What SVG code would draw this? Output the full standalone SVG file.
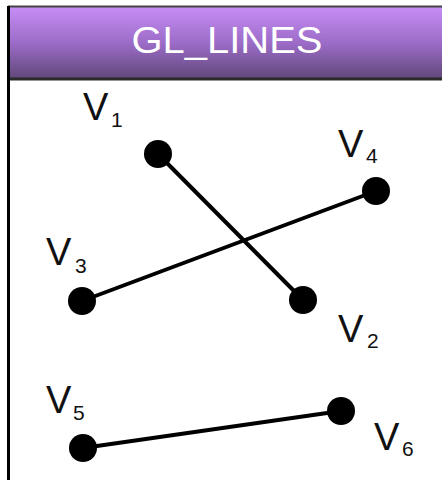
<svg xmlns="http://www.w3.org/2000/svg" width="442" height="480" viewBox="0 0 442 480">
<defs>
<linearGradient id="hdr" x1="0" y1="0" x2="0" y2="1">
<stop offset="0" stop-color="#c88ef6"/>
<stop offset="0.5" stop-color="#9c6cc8"/>
<stop offset="1" stop-color="#5e4676"/>
</linearGradient>
</defs>
<style>
.v{font-family:"Liberation Sans",Arial,sans-serif;font-size:38px;fill:#111}
.s{font-family:"Liberation Sans",Arial,sans-serif;font-size:21px;fill:#111}
.dot{fill:#000}
.ln{stroke:#000;stroke-width:4;fill:none}
</style>
<rect x="0" y="0" width="442" height="480" fill="#fff"/>
<g id="header">
<rect x="8" y="6" width="434" height="74" fill="url(#hdr)"/>
<line x1="8" y1="6.5" x2="442" y2="6.5" stroke="#444" stroke-width="2"/>
<line x1="8" y1="79" x2="442" y2="79" stroke="#2a2a2a" stroke-width="3"/>
<text x="227" y="53" text-anchor="middle" font-family="'Liberation Sans',Arial,sans-serif" font-size="36" fill="#fff" textLength="191" lengthAdjust="spacingAndGlyphs">GL_LINES</text>
</g>
<line x1="8.5" y1="6" x2="8.5" y2="480" stroke="#000" stroke-width="3"/>
<g id="connectors">
<line class="ln" x1="158" y1="154" x2="303" y2="300"/>
<line class="ln" x1="82" y1="301" x2="376" y2="191"/>
<line class="ln" x1="83" y1="448" x2="341" y2="411"/>
</g>
<g id="v1"><circle class="dot" cx="158" cy="154" r="14"/><text class="v" x="83" y="120">V</text><text class="s" x="111" y="127">1</text></g>
<g id="v2"><circle class="dot" cx="303" cy="300" r="14"/><text class="v" x="338" y="342">V</text><text class="s" x="367" y="348">2</text></g>
<g id="v3"><circle class="dot" cx="82" cy="301" r="14"/><text class="v" x="46" y="265">V</text><text class="s" x="75" y="273">3</text></g>
<g id="v4"><circle class="dot" cx="376" cy="191" r="14"/><text class="v" x="338" y="157">V</text><text class="s" x="366" y="163">4</text></g>
<g id="v5"><circle class="dot" cx="83" cy="448" r="14"/><text class="v" x="46" y="413">V</text><text class="s" x="73" y="420">5</text></g>
<g id="v6"><circle class="dot" cx="341" cy="411" r="14"/><text class="v" x="374" y="450">V</text><text class="s" x="402" y="456">6</text></g>
</svg>
